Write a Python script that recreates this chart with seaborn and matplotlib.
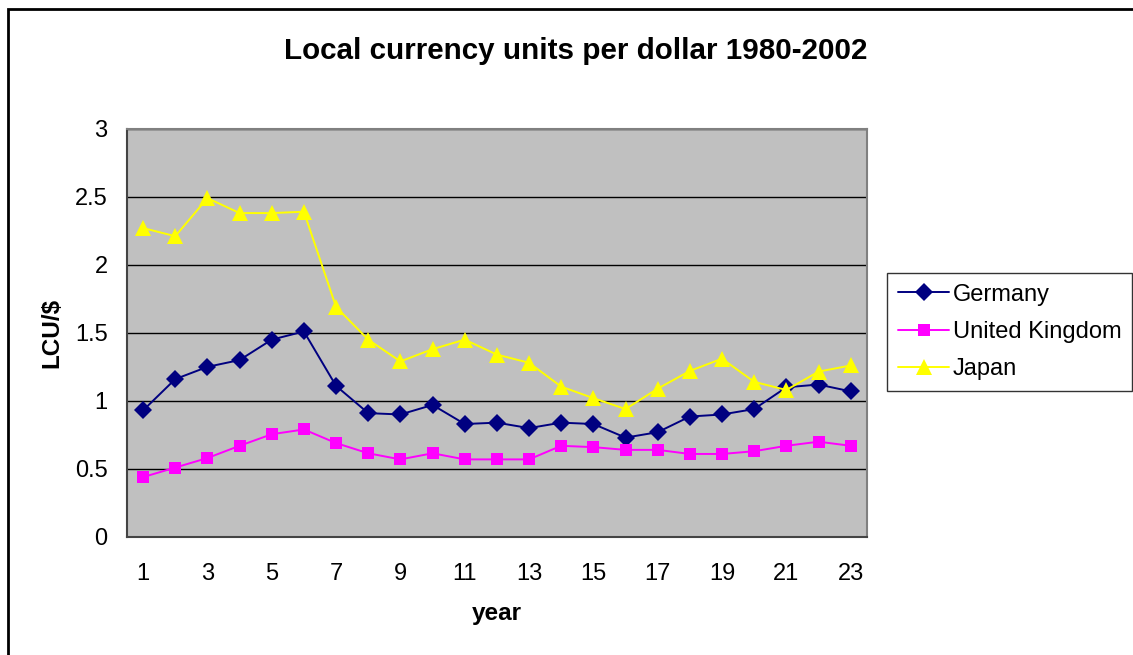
import numpy as np
import pandas as pd
import matplotlib
matplotlib.use("Agg")
import matplotlib.pyplot as plt
import seaborn as sns
from matplotlib.patches import Rectangle
from matplotlib.ticker import FixedLocator

years = list(range(1, 24))
germany = [0.93, 1.16, 1.25, 1.30, 1.45, 1.51, 1.11, 0.91, 0.90, 0.97, 0.83, 0.84,
           0.80, 0.84, 0.83, 0.73, 0.77, 0.885, 0.90, 0.94, 1.10, 1.12, 1.07]
uk = [0.44, 0.51, 0.58, 0.67, 0.755, 0.79, 0.69, 0.615, 0.57, 0.615, 0.57, 0.57,
      0.57, 0.67, 0.66, 0.64, 0.64, 0.61, 0.61, 0.63, 0.67, 0.70, 0.67]
japan = [2.27, 2.21, 2.49, 2.38, 2.38, 2.39, 1.69, 1.45, 1.29, 1.38, 1.45, 1.34,
         1.28, 1.105, 1.02, 0.94, 1.09, 1.22, 1.31, 1.14, 1.08, 1.215, 1.26]
countries = ["Germany", "United Kingdom", "Japan"]

df = pd.DataFrame({"year": years, "Germany": germany,
                   "United Kingdom": uk, "Japan": japan})
long = df.melt(id_vars="year", var_name="country", value_name="lcu")

sns.set_style("white")
plt.rcParams['font.family'] = ['Liberation Sans', 'DejaVu Sans']
plt.rcParams['text.color'] = 'black'
plt.rcParams['xtick.color'] = 'black'
plt.rcParams['ytick.color'] = 'black'
plt.rcParams['axes.labelcolor'] = 'black'

fig = plt.figure(figsize=(11.33, 6.55), dpi=100)
ax = fig.add_axes([0.1121, 0.1802, 0.6529, 0.6233])
ax.set_facecolor("#C0C0C0")

palette = {"Germany": "#000080", "United Kingdom": "#FF00FF", "Japan": "#FFFF00"}
markers = {"Germany": "D", "United Kingdom": "s", "Japan": "^"}
sns.lineplot(data=long, x="year", y="lcu", hue="country", style="country",
             hue_order=countries, style_order=countries, palette=palette,
             markers=markers, dashes=False, markersize=9, markeredgewidth=0,
             linewidth=1.4, ax=ax, zorder=3)
for line in ax.lines:
    if line.get_marker() == "^":
        line.set_markersize(11)

ax.set_xlim(0.5, 23.5)
ax.set_ylim(0, 3)
ax.set_yticks(np.arange(0, 3.01, 0.5))
ax.set_yticklabels(["0", "0.5", "1", "1.5", "2", "2.5", "3"])
ax.set_xticks(range(1, 24, 2))
ax.xaxis.set_minor_locator(FixedLocator(np.arange(0.5, 24, 1)))
ax.tick_params(axis="x", which="major", length=0, pad=19, labelsize=17)
ax.tick_params(axis="x", which="minor", length=6, width=1, color="#333333", direction="out")
ax.tick_params(axis="y", length=6, width=1, color="#333333", direction="out", pad=8, labelsize=17)
ax.grid(axis="y", color="black", linewidth=1, zorder=1)
ax.set_axisbelow(True)
for s in ["left", "bottom"]:
    ax.spines[s].set_color("#444444")
    ax.spines[s].set_linewidth(1.5)
for s in ["top", "right"]:
    ax.spines[s].set_color("#808080")
    ax.spines[s].set_linewidth(1.5)

ax.set_xlabel("year", fontsize=17.5, fontweight="bold", labelpad=12)
ax.set_ylabel("LCU/$", fontsize=17.5, fontweight="bold", labelpad=8)
fig.text(0.508, 0.922, "Local currency units per dollar 1980-2002",
         ha="center", va="center", fontsize=21.3, fontweight="bold")

handles, labels = ax.get_legend_handles_labels()
for h in handles:
    if h.get_marker() == "^":
        h.set_markersize(11)
leg = ax.legend(handles, labels, loc="upper left", bbox_to_anchor=(0.7828, 0.583),
                bbox_transform=fig.transFigure, fontsize=17, frameon=True,
                fancybox=False, edgecolor="black", borderpad=0.45,
                labelspacing=0.65, handlelength=2.2, handletextpad=0.15,
                borderaxespad=0)
leg.get_frame().set_linewidth(1)

fig.patches.append(Rectangle((8 / 1133, -0.05), 1.2, 1.05 - 9 / 655,
                             transform=fig.transFigure, fill=False,
                             edgecolor="black", linewidth=2))

fig.savefig("out.png", dpi=100)
